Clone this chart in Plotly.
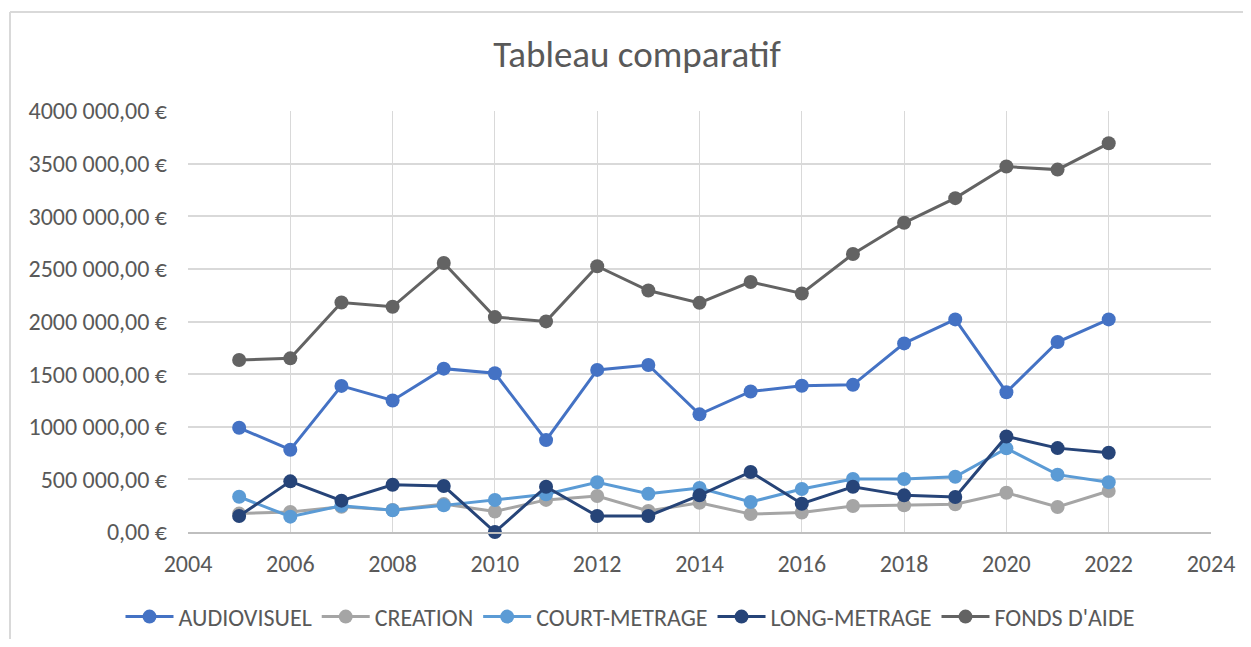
import plotly.graph_objects as go

years = list(range(2005, 2023))

audiovisuel = [990000, 782000, 1388000, 1250000, 1552000, 1508000, 873000, 1540000, 1587000,
               1118000, 1335000, 1390000, 1398000, 1792000, 2020000, 1328000, 1805000, 2020000]
creation = [175000, 190000, 240000, 210000, 265000, 195000, 305000, 342000, 200000,
            278000, 170000, 185000, 247000, 253000, 263000, 373000, 238000, 390000]
court_metrage = [335000, 146000, 250000, 206000, 253000, 304000, 358000, 472000, 364000,
                 418000, 285000, 408000, 503000, 503000, 525000, 795000, 545000, 472000]
long_metrage = [152000, 481000, 298000, 449000, 437000, 0, 430000, 152000, 152000,
                348000, 570000, 269000, 430000, 348000, 332000, 908000, 797000, 753000]
fonds_aide = [1634000, 1650000, 2181000, 2140000, 2556000, 2042000, 2001000, 2525000, 2294000,
              2177000, 2376000, 2266000, 2641000, 2938000, 3172000, 3472000, 3443000, 3693000]

series_names = ["AUDIOVISUEL", "CREATION", "COURT-METRAGE", "LONG-METRAGE", "FONDS D'AIDE"]
series_values = [audiovisuel, creation, court_metrage, long_metrage, fonds_aide]
series_colors = ["#4472C4", "#A5A5A5", "#5B9BD5", "#264478", "#636363"]

y_tick_values = [0, 500000, 1000000, 1500000, 2000000, 2500000, 3000000, 3500000, 4000000]
y_tick_labels = ["0,00 €", "500 000,00 €", "1000 000,00 €", "1500 000,00 €", "2000 000,00 €",
                 "2500 000,00 €", "3000 000,00 €", "3500 000,00 €", "4000 000,00 €"]
x_tick_values = list(range(2004, 2025, 2))

FONT = "Carlito, Lato, 'Noto Sans', sans-serif"
TXT = "#595959"

fig = go.Figure()
for name, vals, col in zip(series_names, series_values, series_colors):
    fig.add_trace(go.Scatter(
        x=years, y=vals, name=name, mode="lines+markers",
        line=dict(color=col, width=3),
        marker=dict(color=col, size=14, symbol="circle"),
        cliponaxis=False,
    ))

# page body has an 8px offset; figure coordinates below are window coords minus 8
OFF = 8
W, H = 1251 - 2 * OFF, 647 - 2 * OFF
px_left, px_right, px_top, px_bottom = 188 - OFF, 1211 - OFF, 111 - OFF, 532 - OFF
L, R, T, B = px_left, W - px_right, px_top, H - px_bottom
PW, PH = px_right - px_left, px_bottom - px_top


def xp(px):
    return (px - px_left) / PW


def yp(py):
    return (px_bottom - py) / PH


fig.update_layout(
    width=W, height=H,
    margin=dict(l=L, r=R, t=T, b=B, autoexpand=False),
    paper_bgcolor="white", plot_bgcolor="white",
    font=dict(family=FONT, color=TXT, size=24),
    title=dict(text="Tableau comparatif", x=(637 - OFF) / W, xref="container", xanchor="center",
               y=1 - (54 - OFF) / H, yref="container", yanchor="middle",
               font=dict(size=37, color=TXT, family=FONT)),
    legend=dict(orientation="h", x=(630 - OFF) / W, xref="container", xanchor="center",
                y=1 - (617 - OFF) / H, yref="container",
                yanchor="middle", font=dict(size=24, color=TXT), itemwidth=48,
                bgcolor="rgba(0,0,0,0)"),
    xaxis=dict(range=[2004, 2024], tickmode="array", tickvals=x_tick_values,
               showgrid=True, gridcolor="#D9D9D9", gridwidth=1.3,
               showline=True, linecolor="#BFBFBF", linewidth=2,
               zeroline=False, ticks="", ticklabelstandoff=9, automargin=False,
               tickfont=dict(size=24, color=TXT)),
    yaxis=dict(range=[0, 4000000], tickmode="array", tickvals=y_tick_values,
               ticktext=y_tick_labels, showgrid=True, gridcolor="#D9D9D9", gridwidth=1.5,
               showline=False, zeroline=False, ticks="", ticklabelstandoff=20, automargin=False,
               tickfont=dict(size=24, color=TXT)),
    shapes=[
        dict(type="line", xref="paper", yref="paper",
             x0=xp(10 - OFF), x1=xp(W + 20),
             y0=yp(12 - OFF), y1=yp(12 - OFF),
             line=dict(color="#D9D9D9", width=2)),
        dict(type="line", xref="paper", yref="paper",
             x0=xp(10 - OFF), x1=xp(10 - OFF),
             y0=yp(12 - OFF), y1=yp(H + 20),
             line=dict(color="#D9D9D9", width=2)),
    ],
)

fig.write_html("out.html")
